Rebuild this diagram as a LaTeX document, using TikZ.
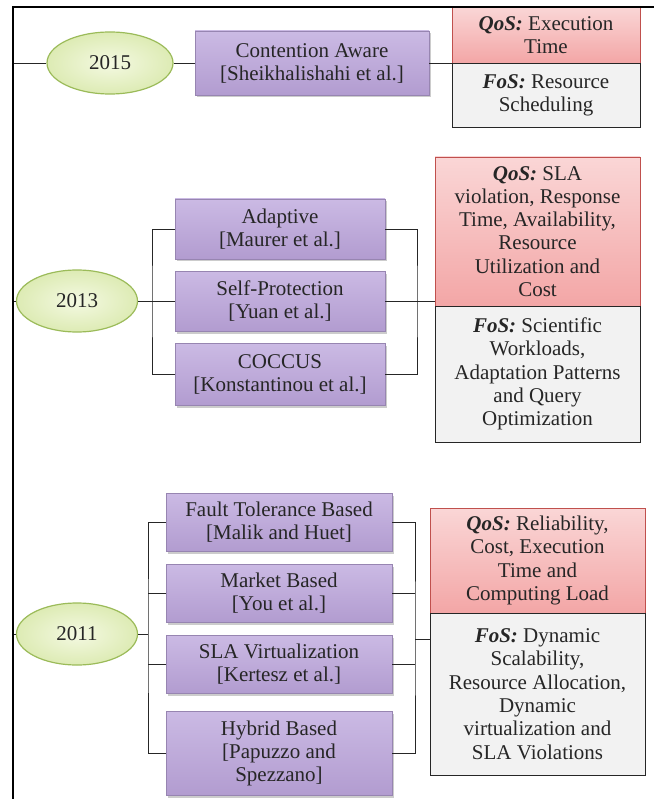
\documentclass[tikz,border=0pt]{standalone}
\usepackage{fontspec}
\setmainfont{Liberation Serif}
\usetikzlibrary{shapes.geometric,shadows}
\definecolor{boxtop}{RGB}{203,186,228}
\definecolor{boxbot}{RGB}{178,156,208}
\definecolor{qostop}{RGB}{250,214,214}
\definecolor{qosbot}{RGB}{243,166,166}
\definecolor{qosred}{RGB}{192,80,77}
\definecolor{fosgray}{RGB}{242,242,242}
\definecolor{yearin}{RGB}{244,249,226}
\definecolor{yearout}{RGB}{221,235,180}
\definecolor{yeargreen}{RGB}{155,187,89}
\definecolor{textgray}{RGB}{38,38,38}
\begin{document}
\begin{tikzpicture}[
    x=1pt, y=-1pt,
    frame/.style={line width=1.8pt},
    link/.style={line width=0.8pt, draw=textgray},
    year/.style={ellipse, draw=yeargreen, line width=1.2pt, inner color=yearin,
      outer color=yearout, inner sep=0pt, text=textgray,
      font=\fontsize{21}{23}\selectfont},
    method/.style={rectangle, top color=boxtop, bottom color=boxbot, inner sep=0pt,
      draw=boxbot!85!black, line width=0.3pt,
      drop shadow={shadow xshift=1.5pt, shadow yshift=-2.5pt, opacity=0.4},
      align=center, text=textgray, font=\fontsize{21}{23}\selectfont},
    qos/.style={rectangle, draw=qosred, line width=0.6pt, top color=qostop,
      bottom color=qosbot, inner sep=0pt, align=center, text=textgray,
      font=\fontsize{21}{23.3}\selectfont},
    fos/.style={rectangle, draw=textgray, line width=0.7pt, fill=fosgray,
      inner sep=0pt, align=center, text=textgray,
      font=\fontsize{21}{23.3}\selectfont}
  ]
  \useasboundingbox (0,0) rectangle (654,799);
  \coordinate (spine) at (13,7);

  % Year: 2015
  \node[year, minimum width=126pt, minimum height=62pt] (E15) at (110,63) {2015};
  \node[method, minimum width=234pt, minimum height=64pt] (B15) at (312,63)
    {Contention Aware\\{}[Sheikhalishahi et al.]};
  \node[qos, minimum width=188pt, minimum height=56pt] (Q15) at (546,35)
    {\textbf{\textit{QoS:}} Execution\\Time};
  \node[fos, minimum width=188pt, minimum height=64pt] (F15) at (546,95)
    {\textbf{\textit{FoS:}} Resource\\Scheduling};

  \draw[link] (E15.west -| spine) -- (E15.west);
  \draw[link] (E15) -- (B15);
  \draw[link] (B15.east) -- (B15.east -| Q15.west);

  % Year: 2013
  \node[year, minimum width=121pt, minimum height=62pt] (E13) at (77,301) {2013};
  \node[method, minimum width=210pt, minimum height=60pt] (A13) at (280,229)
    {Adaptive\\{}[Maurer et al.]};
  \node[method, minimum width=210pt, minimum height=60pt] (S13) at (280,301)
    {Self-Protection\\{}[Yuan et al.]};
  \node[method, minimum width=210pt, minimum height=62pt] (C13) at (280,374)
    {COCCUS\\{}[Konstantinou et al.]};
  \node[qos, minimum width=205pt, minimum height=149pt] (Q13) at (537.5,231.5)
    {\textbf{\textit{QoS:}} SLA\\violation, Response\\Time, Availability,\\Resource\\Utilization and\\Cost};
  \node[fos, minimum width=205pt, minimum height=136pt] (F13) at (537.5,374)
    {\textbf{\textit{FoS:}} Scientific\\Workloads,\\Adaptation Patterns\\and Query\\Optimization};
  \coordinate (L13) at (152,301);
  \coordinate (R13) at (417,301);

  \draw[link] (E13.west -| spine) -- (E13.west);
  \draw[link] (A13.west) -| (L13) |- (C13.west);
  \draw[link] (E13) -- (S13);
  \draw[link] (A13.east) -| (R13) |- (C13.east);
  \draw[link] (S13.east) -- (S13.east -| Q13.west);

  % Year: 2011
  \node[year, minimum width=121pt, minimum height=62pt] (E11) at (77,634) {2011};
  \node[method, minimum width=226pt, minimum height=58pt] (T11) at (279,522)
    {Fault Tolerance Based\\{}[Malik and Huet]};
  \node[method, minimum width=226pt, minimum height=58pt] (M11) at (279,593)
    {Market Based\\{}[You et al.]};
  \node[method, minimum width=226pt, minimum height=58pt] (V11) at (279,664)
    {SLA Virtualization\\{}[Kertesz et al.]};
  \node[method, minimum width=226pt, minimum height=84pt] (H11) at (279,753)
    {Hybrid Based\\{}[Papuzzo and\\Spezzano]};
  \node[qos, minimum width=215pt, minimum height=105pt] (Q11) at (537.5,560.5)
    {\textbf{\textit{QoS:}} Reliability,\\Cost, Execution\\Time and\\Computing Load};
  \node[fos, minimum width=215pt, minimum height=162pt] (F11) at (537.5,694)
    {\textbf{\textit{FoS:}} Dynamic\\Scalability,\\Resource Allocation,\\Dynamic\\virtualization and\\SLA Violations};
  \coordinate (L11) at (148,634);
  \coordinate (R11) at (415,639);

  \draw[link] (E11.west -| spine) -- (E11.west);
  \draw[link] (T11.west) -| (L11) |- (H11.west);
  \draw[link] (M11.west) -- (M11.west -| L11);
  \draw[link] (V11.west) -- (V11.west -| L11);
  \draw[link] (E11.east) -- (E11.east -| L11);
  \draw[link] (T11.east) -| (R11) |- (H11.east);
  \draw[link] (M11.east) -- (M11.east -| R11);
  \draw[link] (V11.east) -- (V11.east -| R11);
  \draw[link] (R11) -- (R11 -| F11.west);

  % Frame
  \draw[frame] (13,799) -- (spine) -- (654,7);
\end{tikzpicture}
\end{document}
